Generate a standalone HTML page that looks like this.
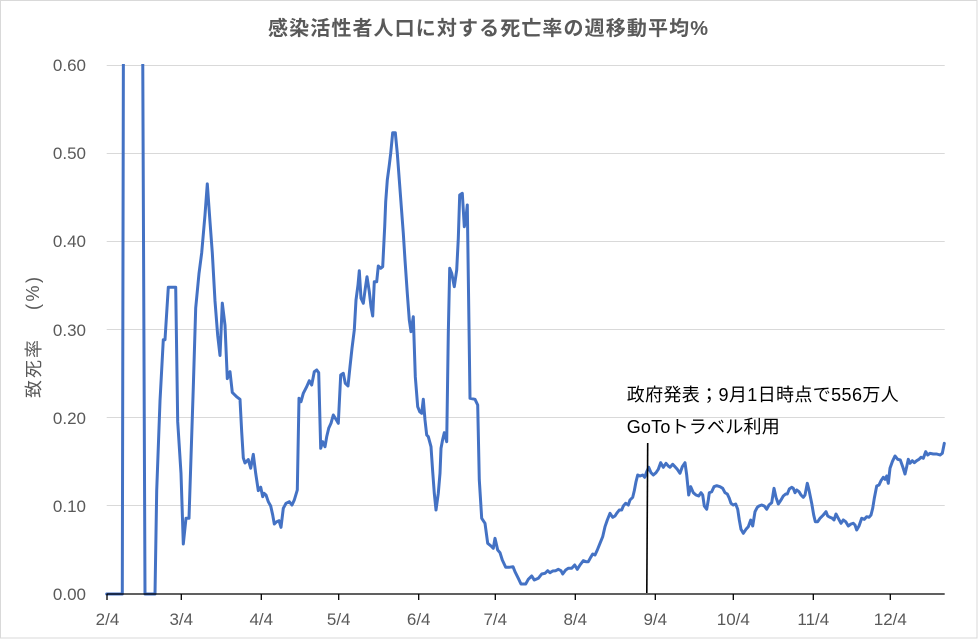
<!DOCTYPE html>
<html>
<head>
<meta charset="utf-8">
<style>
  html, body { margin: 0; padding: 0; background: #ffffff; }
  svg { display: block; }
  .jp { font-family: "Liberation Sans", "Noto Sans CJK JP", sans-serif; }
  .num { font-family: "Liberation Sans", sans-serif; }
</style>
</head>
<body>
<svg width="978" height="639" viewBox="0 0 978 639" xmlns="http://www.w3.org/2000/svg">
  <rect x="0" y="0" width="978" height="639" fill="#ffffff"/>
  <rect x="0.5" y="0.5" width="976.5" height="637.5" fill="none" stroke="#d9d9d9" stroke-width="1"/>

  <!-- Title -->
  <text class="jp" x="488" y="35" text-anchor="middle" font-size="20" font-weight="bold" fill="#595959" textLength="440">感染活性者人口に対する死亡率の週移動平均%</text>

  <!-- Gridlines -->
  <g stroke="#d9d9d9" stroke-width="1">
    <line x1="106.7" y1="65.5" x2="944.7" y2="65.5"/>
    <line x1="106.7" y1="153.5" x2="944.7" y2="153.5"/>
    <line x1="106.7" y1="241.5" x2="944.7" y2="241.5"/>
    <line x1="106.7" y1="329.5" x2="944.7" y2="329.5"/>
    <line x1="106.7" y1="417.5" x2="944.7" y2="417.5"/>
    <line x1="106.7" y1="505.5" x2="944.7" y2="505.5"/>
  </g>

  <!-- Y tick labels -->
  <g class="num" font-size="17" fill="#595959" text-anchor="end">
    <text x="86" y="71">0.60</text>
    <text x="86" y="159">0.50</text>
    <text x="86" y="247">0.40</text>
    <text x="86" y="336">0.30</text>
    <text x="86" y="424">0.20</text>
    <text x="86" y="512">0.10</text>
    <text x="86" y="600">0.00</text>
  </g>

  <!-- Y axis title -->
  <g class="jp" font-size="18" fill="#595959">
    <text transform="translate(33,369) rotate(-90)" x="0" y="7" text-anchor="middle" textLength="58">致死率</text>
    <text transform="translate(33,293.5) rotate(-90)" x="0" y="6" text-anchor="middle" textLength="33">(%)</text>
  </g>

  <!-- Data series -->
  <defs>
    <clipPath id="plot">
      <rect x="100" y="64" width="860" height="540"/>
    </clipPath>
  </defs>
  <polyline clip-path="url(#plot)" fill="none" stroke="#4472c4" stroke-width="3" stroke-linejoin="round" stroke-linecap="round"
    points="106.7,594 122.3,594 123.5,0 142.5,0 145,594 155,594 156.7,490.6 160,401 163.3,339.7 165,339.7 168.3,287.3 175.7,287.3 177.7,421.7 181,473.4 183.3,544 186,518.2 189,518.2 193.3,387.2 195.7,308 199,273.5 201.7,252.8 205,214.9 207.3,183.9 210,221.8 212.3,252.8 215,301 217.7,335.5 220,355.5 222.3,303.1 225,325.2 227.3,378.6 230,371.7 232.3,392.4 236.7,396.8 240,399.3 241.7,432 243.3,457.9 245,463 248.3,459.6 250.7,468.2 253.3,454.4 255.7,473.4 258.3,490.6 260.7,487.2 262.7,496.7 264,493.3 266,495 268.3,501.7 270.7,506 272.7,515 274.3,524 276.7,521.7 279,520.7 281,527.3 283.3,508.3 286,503.3 289.3,501.7 292,505 294.3,500 297.3,490 299,398.3 301,401.7 303.3,393.3 306.7,386.7 309.3,380.7 311.7,385 314.3,371.7 316.7,370 318.7,372.7 320.7,448.3 322.7,441.7 325,446.7 326.7,436.7 328.7,428.3 331,423.3 333.3,415 336,419.3 338.3,423.3 340.7,375 343.3,373.3 345.3,383.3 348,386 350,366.7 352,348.3 354.3,330 356,300 358,285 359.3,270.7 361,298.3 363.3,303.3 365.3,288.3 367,276.7 369.3,291.7 371,306.7 372.7,316 374.3,281.7 376.7,281.7 378.3,266 380.7,268.3 382.7,266.7 384.7,226.7 385.7,201.7 387.3,180 389.3,165 390.7,153.3 392.7,132.7 395.3,132.7 397.3,153.3 399.3,180 401.3,206.7 403.3,233.3 405,260 407.3,293.3 409.3,320 411,331.7 413.3,316.7 415.3,376.7 417.7,406.7 419.7,411.7 421.7,413.3 423.3,399.3 425,420 426.7,435 428.3,436.7 431,446.7 432.7,471.7 434.3,493.3 436,510 438.3,493.3 440,473.3 441,448.3 442.7,439.3 444.3,432.7 446.7,441.7 448.3,333.3 449.7,268.3 451.7,273.3 454.3,286.7 456.7,270 458.3,238.3 459.7,195 462.3,193.3 464.3,226.7 465.7,220 467.3,205 468.3,276.7 470,398.3 475,399.3 477.7,405 479.3,480 481.7,518.3 485,523.3 487.7,543.3 491,546 493.3,548.3 495,538.3 497.7,550 500,552.7 502.3,560 505.7,567.3 509,567.3 513,566.7 515,571.7 518.3,578.3 521,584 525.7,584 528.3,579.3 531.7,576 534.3,580 538.3,578.3 541.7,574 545,573.3 547.7,570.7 550,572.7 552.7,571 555.7,570.7 558.3,569.3 561,570.7 562.7,574 565.7,570 568.3,568.3 571.7,568.3 574.7,565 577.3,569.3 580,565 583.3,560.7 586,561.7 588.3,561.7 590.7,557.3 592.7,554 595,555 597.3,550 600,543.3 602.7,536.7 605,526.7 607.3,520 610,513.3 612.7,517.3 615,516 616.7,513.3 619.3,510 621.7,510 623.3,506 625.7,503.3 628.3,505 630,500 632.7,497.3 634.3,490.7 636,481.7 637.7,475 640,476 642.7,475 644.7,477.3 646.7,471.7 648.7,467.3 651,472.7 653.3,475 656,472.7 658.3,469.3 660.7,462.7 663.3,467.3 666,463.3 668.3,466 670,467.3 672.7,464.3 675,466.7 677.3,469.3 680,473.3 682.3,466.7 685,462.7 686.7,475 688.7,495 690.7,486.7 693.3,492.7 696,495 698.7,496 701,492.7 702.7,495 704.3,506 706.7,509.3 708.3,500 709.3,492.7 711.7,491.7 714,486.7 716.7,485.7 720,486.7 722.7,488.3 725,492.7 727.3,494 729.3,498.3 731,503.3 733.3,505 735.7,504 737.7,509.3 739.3,520 741,529.3 743.3,533.3 746,529.3 748.3,526.7 750.7,520 752.7,526 755,511.7 757.3,507.3 759,506 761.7,505 764.3,506 766.7,509.3 769,505 771.7,502.7 774,488.3 776,497.3 778.3,504 781,500 783.3,496 785.7,494 787.3,494 789.3,489 791.7,487.3 793.3,488.3 795,492.7 796.7,490 799,491.7 801,495 803.3,497.3 805,495 807.3,483.3 809,490 811.7,503.3 813.7,515 815.3,521.7 817.7,521.7 820,518.3 823.3,515 826,511.7 827.7,516 830,517.3 832.3,518.3 834,520 836,514 838.3,518.3 841,523.3 843.3,520 845.7,521.7 848.3,526 851,524 853.3,523.3 855,525 856.7,530 859,526 861.7,518.3 864.3,519.3 866.7,516.7 869,517.3 871,515 872.7,508.3 874.3,498.3 876.7,486 879,485 881,480.7 883.3,477.3 885,479.3 886.7,476 888.3,483.3 890,468.3 892.3,461.7 895,456 897.7,459.3 900.3,460 902.7,466.7 905,474 906.7,466.7 908.3,459.3 910,463.3 912.3,460.7 914.3,462.7 916.7,460.7 919,459.3 921,457.3 923.3,458.3 925.7,451.7 927.7,455 930,453.3 933.3,454 936.7,454 940,455 942.3,453.3 944.3,443.3"/>

  <!-- X axis -->
  <line x1="106.7" y1="594" x2="944.7" y2="594" stroke="#000000" stroke-width="1.3"/>
  <g stroke="#000000" stroke-width="1.3">
    <line x1="107" y1="594" x2="107" y2="600"/>
    <line x1="181.3" y1="594" x2="181.3" y2="600"/>
    <line x1="261.3" y1="594" x2="261.3" y2="600"/>
    <line x1="338.7" y1="594" x2="338.7" y2="600"/>
    <line x1="418.7" y1="594" x2="418.7" y2="600"/>
    <line x1="495.3" y1="594" x2="495.3" y2="600"/>
    <line x1="575.3" y1="594" x2="575.3" y2="600"/>
    <line x1="655.3" y1="594" x2="655.3" y2="600"/>
    <line x1="733.3" y1="594" x2="733.3" y2="600"/>
    <line x1="813.3" y1="594" x2="813.3" y2="600"/>
    <line x1="890.3" y1="594" x2="890.3" y2="600"/>
  </g>

  <!-- X tick labels -->
  <g class="num" font-size="17" fill="#595959" text-anchor="middle">
    <text x="107.5" y="625">2/4</text>
    <text x="181.3" y="625">3/4</text>
    <text x="261.3" y="625">4/4</text>
    <text x="338.7" y="625">5/4</text>
    <text x="418.7" y="625">6/4</text>
    <text x="495.3" y="625">7/4</text>
    <text x="575.3" y="625">8/4</text>
    <text x="655.3" y="625">9/4</text>
    <text x="733.3" y="625">10/4</text>
    <text x="813.3" y="625">11/4</text>
    <text x="890.3" y="625">12/4</text>
  </g>

  <!-- Annotation -->
  <line x1="647.7" y1="443" x2="646.8" y2="593" stroke="#000000" stroke-width="1.6"/>
  <g class="jp" font-size="18" fill="#000000">
    <text x="626.7" y="401" textLength="272">政府発表；9月1日時点で556万人</text>
    <text x="626.7" y="433" textLength="153">GoToトラベル利用</text>
  </g>
</svg>
</body>
</html>
